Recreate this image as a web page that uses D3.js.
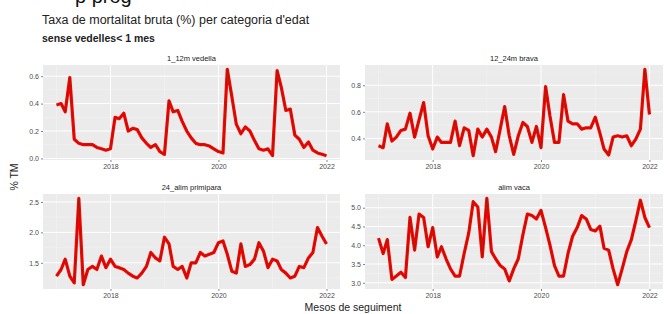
<!DOCTYPE html>
<html>
<head>
<meta charset="utf-8">
<script src="https://cdn.jsdelivr.net/npm/d3@7"></script>
<style>
    body { margin: 0; background: #fff; }
    svg { display: block; font-family: "Liberation Sans", Arial, sans-serif; }
</style>
</head>
<body>
<div id="chart"></div>
<script>
// Monthly follow-up, Jan 2017 .. Jan 2022
const months = d3.timeMonth.range(new Date(2017, 0, 1), new Date(2022, 1, 1));

const panelNames = ['1_12m vedella', '12_24m brava', '24_alim primipara', 'alim vaca'];

const tmVedella = [0.39, 0.40, 0.34, 0.59, 0.14, 0.11, 0.10, 0.10, 0.10, 0.08,
    0.07, 0.06, 0.07, 0.30, 0.29, 0.33, 0.20, 0.22, 0.21, 0.15,
    0.11, 0.08, 0.10, 0.05, 0.03, 0.42, 0.34, 0.35, 0.27, 0.20,
    0.15, 0.11, 0.10, 0.10, 0.09, 0.07, 0.05, 0.04, 0.65, 0.45,
    0.25, 0.18, 0.23, 0.20, 0.13, 0.07, 0.06, 0.07, 0.02, 0.64,
    0.52, 0.35, 0.36, 0.17, 0.14, 0.08, 0.12, 0.06, 0.04, 0.03,
    0.02];

const tmBrava = [0.345, 0.33, 0.51, 0.38, 0.41, 0.46, 0.47, 0.59, 0.41, 0.54,
    0.67, 0.42, 0.32, 0.41, 0.37, 0.37, 0.37, 0.53, 0.345, 0.48,
    0.46, 0.27, 0.47, 0.41, 0.47, 0.41, 0.30, 0.47, 0.64, 0.42,
    0.28, 0.42, 0.52, 0.49, 0.37, 0.49, 0.33, 0.79, 0.57, 0.37,
    0.37, 0.73, 0.53, 0.51, 0.51, 0.47, 0.48, 0.48, 0.56, 0.44,
    0.32, 0.275, 0.41, 0.42, 0.41, 0.42, 0.345, 0.395, 0.47, 0.92,
    0.58];

const tmPrimipara = [1.28, 1.39, 1.56, 1.28, 1.17, 2.56, 1.14, 1.39, 1.44, 1.39,
    1.61, 1.42, 1.56, 1.44, 1.42, 1.39, 1.33, 1.28, 1.25, 1.33,
    1.44, 1.67, 1.58, 1.53, 1.92, 1.81, 1.44, 1.39, 1.44, 1.25,
    1.50, 1.50, 1.67, 1.61, 1.64, 1.67, 1.83, 1.86, 1.64, 1.36,
    1.33, 1.81, 1.44, 1.47, 1.56, 1.83, 1.69, 1.42, 1.56, 1.53,
    1.39, 1.33, 1.25, 1.28, 1.44, 1.42, 1.58, 1.67, 2.08, 1.94,
    1.81];

const tmVaca = [4.19, 3.78, 4.15, 3.09, 3.18, 3.28, 3.14, 4.74, 3.87, 4.83,
    4.74, 3.96, 4.47, 3.69, 3.96, 3.64, 3.37, 3.18, 3.18, 3.78,
    4.33, 5.16, 5.02, 3.69, 5.25, 3.83, 3.64, 3.46, 3.37, 3.05,
    3.37, 3.64, 4.28, 4.83, 4.79, 4.70, 4.93, 4.47, 4.01, 3.46,
    3.18, 3.18, 3.78, 4.24, 4.47, 4.79, 4.70, 4.42, 4.38, 4.51,
    3.92, 3.87, 3.37, 2.95, 3.37, 3.83, 4.15, 4.65, 5.20, 4.74,
    4.47];

const yTicksVedella = [0.0, 0.2, 0.4, 0.6];
const yTicksBrava = [0.4, 0.6, 0.8];
const yTicksPrimipara = [1.5, 2.0, 2.5];
const yTicksVaca = [3.0, 3.5, 4.0, 4.5, 5.0];

const xTickYears = [2018, 2020, 2022];
const xMinorYears = [2017, 2019, 2021];

// facet layout (ggplot facet_wrap, free scales)
const width = 667, height = 314;
const colX = [[43, 340], [365, 663]];
const rowY = [[65, 160], [194, 289]];

const panels = [
    { name: panelNames[0], values: tmVedella, yTicks: yTicksVedella, col: 0, row: 0 },
    { name: panelNames[1], values: tmBrava, yTicks: yTicksBrava, col: 1, row: 0 },
    { name: panelNames[2], values: tmPrimipara, yTicks: yTicksPrimipara, col: 0, row: 1 },
    { name: panelNames[3], values: tmVaca, yTicks: yTicksVaca, col: 1, row: 1 }
];

const svg = d3.select('#chart')
    .append('svg')
    .attr('width', width)
    .attr('height', height);

// heading of the page above, cut off by the top edge as in the picture
svg.append('text')
    .attr('x', 75)
    .attr('y', 3)
    .style('font-size', '20px')
    .attr('fill', '#111')
    .text('p prog');

svg.append('text')
    .attr('x', 42)
    .attr('y', 24)
    .style('font-size', '12.5px')
    .attr('fill', '#222')
    .text("Taxa de mortalitat bruta (%) per categoria d'edat");

svg.append('text')
    .attr('x', 42)
    .attr('y', 42)
    .style('font-size', '10.5px')
    .style('font-weight', 'bold')
    .attr('fill', '#222')
    .text('sense vedelles< 1 mes');

// padded time domain, like ggplot expansion of 5%
const tExtent = d3.extent(months);
const tSpan = tExtent[1] - tExtent[0];
const tDomain = [new Date(+tExtent[0] - tSpan * 0.05), new Date(+tExtent[1] + tSpan * 0.05)];

panels.forEach(p => {
    const [x0, x1] = colX[p.col];
    const [y0, y1] = rowY[p.row];

    const x = d3.scaleTime().domain(tDomain).range([x0, x1]);
    const ext = d3.extent(p.values);
    const pad = (ext[1] - ext[0]) * 0.05;
    const y = d3.scaleLinear().domain([ext[0] - pad, ext[1] + pad]).range([y1, y0]);

    const g = svg.append('g');

    g.append('rect')
        .attr('x', x0)
        .attr('y', y0)
        .attr('width', x1 - x0)
        .attr('height', y1 - y0)
        .attr('fill', '#ebebeb');

    // minor grid
    const step = p.yTicks[1] - p.yTicks[0];
    const yMinor = [p.yTicks[0] - step / 2].concat(p.yTicks.map(v => v + step / 2))
        .filter(v => v > y.domain()[0] && v < y.domain()[1]);
    g.selectAll('.ymin')
        .data(yMinor)
        .enter().append('line')
        .attr('x1', x0).attr('x2', x1)
        .attr('y1', d => y(d)).attr('y2', d => y(d))
        .attr('stroke', '#f5f5f5')
        .attr('stroke-width', 0.5);

    g.selectAll('.xmin')
        .data(xMinorYears.map(yr => new Date(yr, 0, 1)).filter(d => d > tDomain[0] && d < tDomain[1]))
        .enter().append('line')
        .attr('x1', d => x(d)).attr('x2', d => x(d))
        .attr('y1', y0).attr('y2', y1)
        .attr('stroke', '#f5f5f5')
        .attr('stroke-width', 0.5);

    // major grid
    g.selectAll('.ymaj')
        .data(p.yTicks)
        .enter().append('line')
        .attr('x1', x0).attr('x2', x1)
        .attr('y1', d => y(d)).attr('y2', d => y(d))
        .attr('stroke', '#fff')
        .attr('stroke-width', 1);

    const xTicks = xTickYears.map(yr => new Date(yr, 0, 1)).filter(d => d <= tDomain[1]);
    g.selectAll('.xmaj')
        .data(xTicks)
        .enter().append('line')
        .attr('x1', d => x(d)).attr('x2', d => x(d))
        .attr('y1', y0).attr('y2', y1)
        .attr('stroke', '#fff')
        .attr('stroke-width', 1);

    // series
    const line = d3.line()
        .x((d, i) => x(months[i]))
        .y(d => y(d));

    g.append('path')
        .datum(p.values)
        .attr('d', line)
        .attr('fill', 'none')
        .attr('stroke', '#ff0000')
        .attr('stroke-width', 3.2)
        .attr('stroke-linejoin', 'round');

    g.append('path')
        .datum(p.values)
        .attr('d', line)
        .attr('fill', 'none')
        .attr('stroke', '#4a3a10')
        .attr('stroke-width', 1)
        .attr('stroke-opacity', 0.5)
        .attr('stroke-linejoin', 'round');

    // axes
    const yAxis = g.append('g')
        .attr('transform', `translate(${x0},0)`)
        .call(d3.axisLeft(y).tickValues(p.yTicks).tickFormat(d3.format('.1f')).tickSize(2).tickPadding(2));
    const xAxis = g.append('g')
        .attr('transform', `translate(0,${y1})`)
        .call(d3.axisBottom(x).tickValues(xTicks).tickFormat(d3.timeFormat('%Y')).tickSize(2).tickPadding(2));

    [yAxis, xAxis].forEach(ax => {
        ax.select('.domain').remove();
        ax.selectAll('.tick line').attr('stroke', '#333').attr('stroke-width', 0.6);
        ax.selectAll('.tick text')
            .attr('fill', '#4d4d4d')
            .style('font-size', '7px')
            .style('font-family', '"Liberation Sans", Arial, sans-serif');
    });

    // strip label
    g.append('text')
        .attr('x', (x0 + x1) / 2)
        .attr('y', y0 - 4)
        .attr('text-anchor', 'middle')
        .attr('fill', '#1a1a1a')
        .style('font-size', '7.5px')
        .text(p.name);
});

svg.append('text')
    .attr('transform', `translate(18,${(rowY[0][0] + rowY[1][1]) / 2}) rotate(-90)`)
    .attr('text-anchor', 'middle')
    .attr('fill', '#222')
    .style('font-size', '10.5px')
    .text('% TM');

svg.append('text')
    .attr('x', (colX[0][0] + colX[1][1]) / 2)
    .attr('y', 311)
    .attr('text-anchor', 'middle')
    .attr('fill', '#222')
    .style('font-size', '10.5px')
    .text('Mesos de seguiment');
</script>
</body>
</html>
